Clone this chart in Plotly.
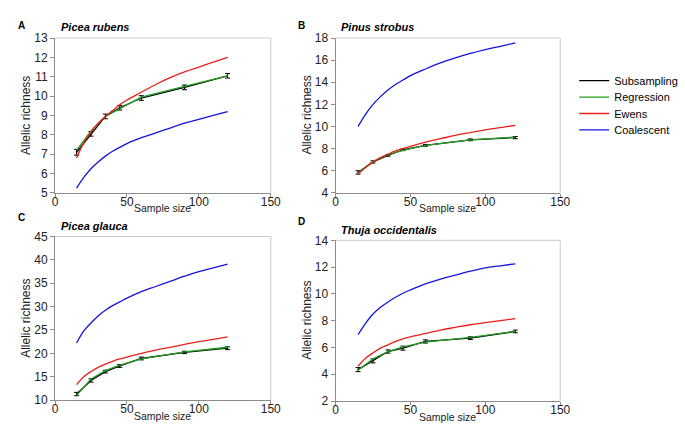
"""Allelic richness vs sample size for four conifer species, four estimators."""

import plotly.graph_objects as go

# subsampling / regression sample sizes
n_obs = [15, 25, 35, 45, 60, 90, 120]
# smooth model curves sample sizes
n_mod = [15, 20, 25, 30, 35, 40, 45, 50, 60, 70, 80, 90, 100, 110, 120]

# --- A: Picea rubens ---
a_sub = [7.1, 8.05, 8.95, 9.4, 9.9, 10.45, 11.05]
a_sub_err = [0.15, 0.12, 0.12, 0.12, 0.12, 0.12, 0.12]
a_reg = [7.2, 8.2, 8.95, 9.35, 9.95, 10.5, 11.05]
a_ewens = [6.8, 7.6, 8.15, 8.6, 8.95, 9.25, 9.55, 9.8, 10.2, 10.6, 10.95, 11.25, 11.5, 11.75, 12.0]
a_coal = [5.25, 5.8, 6.25, 6.6, 6.9, 7.15, 7.35, 7.55, 7.85, 8.1, 8.35, 8.6, 8.8, 9.0, 9.2]

# --- B: Pinus strobus ---
b_sub = [5.85, 6.8, 7.4, 7.9, 8.3, 8.8, 9.0]
b_sub_err = [0.15, 0.1, 0.08, 0.08, 0.08, 0.08, 0.1]
b_reg = [5.8, 6.85, 7.45, 7.85, 8.3, 8.8, 9.05]
b_ewens = [5.7, 6.3, 6.8, 7.2, 7.5, 7.8, 8.0, 8.2, 8.6, 8.9, 9.2, 9.45, 9.7, 9.9, 10.1]
b_coal = [10.0, 11.1, 12.0, 12.7, 13.3, 13.8, 14.2, 14.6, 15.2, 15.75, 16.2, 16.6, 16.95, 17.25, 17.55]

# --- C: Picea glauca ---
c_sub = [11.3, 14.2, 16.1, 17.3, 18.9, 20.2, 21.1]
c_sub_err = [0.35, 0.35, 0.3, 0.3, 0.3, 0.25, 0.3]
c_reg = [11.0, 14.5, 16.3, 17.5, 18.8, 20.3, 21.3]
c_ewens = [13.3, 15.0, 16.1, 17.0, 17.7, 18.3, 18.8, 19.2, 20.0, 20.7, 21.3, 21.9, 22.5, 23.0, 23.5]
c_coal = [22.2, 24.8, 26.5, 28.0, 29.2, 30.2, 31.0, 31.8, 33.2, 34.3, 35.4, 36.5, 37.5, 38.3, 39.1]

# --- D: Thuja occidentalis ---
d_sub = [4.35, 5.0, 5.7, 5.95, 6.45, 6.7, 7.2]
d_sub_err = [0.15, 0.15, 0.12, 0.15, 0.12, 0.1, 0.1]
d_reg = [4.3, 5.15, 5.7, 6.05, 6.4, 6.75, 7.2]
d_ewens = [4.6, 5.2, 5.6, 5.95, 6.2, 6.45, 6.65, 6.8, 7.05, 7.3, 7.5, 7.7, 7.85, 8.0, 8.15]
d_coal = [6.95, 7.8, 8.5, 9.0, 9.4, 9.75, 10.05, 10.3, 10.75, 11.1, 11.4, 11.7, 11.95, 12.1, 12.25]

panels = [
    dict(letter="A", name="Picea rubens", sub=a_sub, err=a_sub_err, reg=a_reg,
         ewens=a_ewens, coal=a_coal, yr=[5, 13], dt=1, lab_dy=13,
         dx=[0.0774, 0.3985], dy=[0.5646, 0.9274]),
    dict(letter="B", name="Pinus strobus", sub=b_sub, err=b_sub_err, reg=b_reg,
         ewens=b_ewens, coal=b_coal, yr=[4, 18], dt=2, lab_dy=13,
         dx=[0.4949, 0.8292], dy=[0.5646, 0.9274]),
    dict(letter="C", name="Picea glauca", sub=c_sub, err=c_sub_err, reg=c_reg,
         ewens=c_ewens, coal=c_coal, yr=[10, 45], dt=5, lab_dy=20,
         dx=[0.0774, 0.3985], dy=[0.0794, 0.4626]),
    dict(letter="D", name="Thuja occidentalis", sub=d_sub, err=d_sub_err, reg=d_reg,
         ewens=d_ewens, coal=d_coal, yr=[2, 14], dt=2, lab_dy=19,
         dx=[0.4949, 0.8292], dy=[0.0771, 0.4535]),
]

FONT = "Liberation Sans, Arial, sans-serif"
W, H = 685, 441

series_names = ["Subsampling", "Regression", "Ewens", "Coalescent"]
legend_ids = ["legend", "legend2", "legend3", "legend4"]

fig = go.Figure()
annotations = []
shapes = []

for i, p in enumerate(panels):
    k = "" if i == 0 else str(i + 1)
    xa, ya = "x" + k, "y" + k
    first = i == 0

    fig.add_trace(go.Scatter(
        x=n_obs, y=p["sub"], mode="lines", name=series_names[0],
        line=dict(color="#000000", width=1.3), showlegend=first,
        legend=legend_ids[0],
        error_y=dict(type="data", array=p["err"], color="#000000",
                     thickness=1, width=2.5),
        xaxis=xa, yaxis=ya,
    ))
    fig.add_trace(go.Scatter(
        x=n_obs, y=p["reg"], mode="lines", name=series_names[1],
        line=dict(color="#22a022", width=1.3), showlegend=first,
        legend=legend_ids[1], xaxis=xa, yaxis=ya,
    ))
    fig.add_trace(go.Scatter(
        x=n_mod, y=p["ewens"], mode="lines", name=series_names[2],
        line_shape="spline", line=dict(color="#e8201c", width=1.3),
        showlegend=first, legend=legend_ids[2], xaxis=xa, yaxis=ya,
    ))
    fig.add_trace(go.Scatter(
        x=n_mod, y=p["coal"], mode="lines", name=series_names[3],
        line_shape="spline", line=dict(color="#1414e0", width=1.3),
        showlegend=first, legend=legend_ids[3], xaxis=xa, yaxis=ya,
    ))

    axis_common = dict(
        showgrid=False, zeroline=False, showline=True, linecolor="#8c8c8c",
        linewidth=1, ticks="outside", ticklen=4, tickcolor="#8c8c8c",
        tickfont=dict(family=FONT, size=12, color="#222222"),
    )
    fig.layout["xaxis" + k] = dict(
        axis_common, domain=p["dx"], range=[0, 150], dtick=50, tick0=0,
        anchor=ya, ticklen=3, ticklabelstandoff=-5,
    )
    fig.layout["yaxis" + k] = dict(
        axis_common, domain=p["dy"], range=p["yr"], dtick=p["dt"],
        tick0=p["yr"][0], anchor=xa,
    )

    # light plot-area border on top and right
    shapes.append(dict(type="line", xref=xa + " domain", yref=ya + " domain",
                       x0=0, x1=1, y0=1, y1=1, line=dict(color="#cccccc", width=1)))
    shapes.append(dict(type="line", xref=xa + " domain", yref=ya + " domain",
                       x0=1, x1=1, y0=0, y1=1, line=dict(color="#cccccc", width=1)))

    x0_px = p["dx"][0] * W
    x1_px = p["dx"][1] * W
    top_px = (1 - p["dy"][1]) * H
    bot_px = (1 - p["dy"][0]) * H

    # panel letter and species name
    annotations.append(dict(
        text="<b>%s</b>" % p["letter"], xref="paper", yref="paper",
        x=(x0_px - 40) / W, y=1 - (top_px - p["lab_dy"]) / H,
        xanchor="left", yanchor="middle", showarrow=False,
        font=dict(family=FONT, size=10, color="#000000"),
    ))
    annotations.append(dict(
        text="<b><i>%s</i></b>" % p["name"], xref="paper", yref="paper",
        x=(x0_px + 4) / W, y=1 - (top_px - 11) / H,
        xanchor="left", yanchor="middle", showarrow=False,
        font=dict(family=FONT, size=11, color="#000000"),
    ))
    # axis titles
    annotations.append(dict(
        text="Sample size", xref="paper", yref="paper",
        x=((x0_px + x1_px) / 2) / W, y=1 - (bot_px + 16) / H,
        xanchor="center", yanchor="middle", showarrow=False,
        font=dict(family=FONT, size=10.5, color="#222222"),
    ))
    annotations.append(dict(
        text="Allelic richness", xref="paper", yref="paper",
        x=(x0_px - 29) / W, y=1 - (top_px + bot_px) / 2 / H,
        xanchor="center", yanchor="middle", showarrow=False, textangle=-90,
        font=dict(family=FONT, size=12, color="#222222"),
    ))

# one legend per series so the row spacing can match the reference
legend_rows_px = [76, 93, 110, 127]
layout_legends = {}
for lid, row in zip(legend_ids, legend_rows_px):
    layout_legends[lid] = dict(
        x=0.85, y=1 - row / H, xanchor="left", yanchor="middle",
        font=dict(family=FONT, size=11, color="#000000"),
        bgcolor="rgba(0,0,0,0)", itemwidth=30, borderwidth=0,
    )

fig.update_layout(
    width=W, height=H,
    margin=dict(l=0, r=0, t=0, b=0, pad=0),
    paper_bgcolor="white", plot_bgcolor="white",
    showlegend=True,
    annotations=annotations,
    shapes=shapes,
    **layout_legends,
)

fig.write_html(
    "out.html",
    config={"displayModeBar": False},
    post_script="document.body.style.margin='0';",
)
